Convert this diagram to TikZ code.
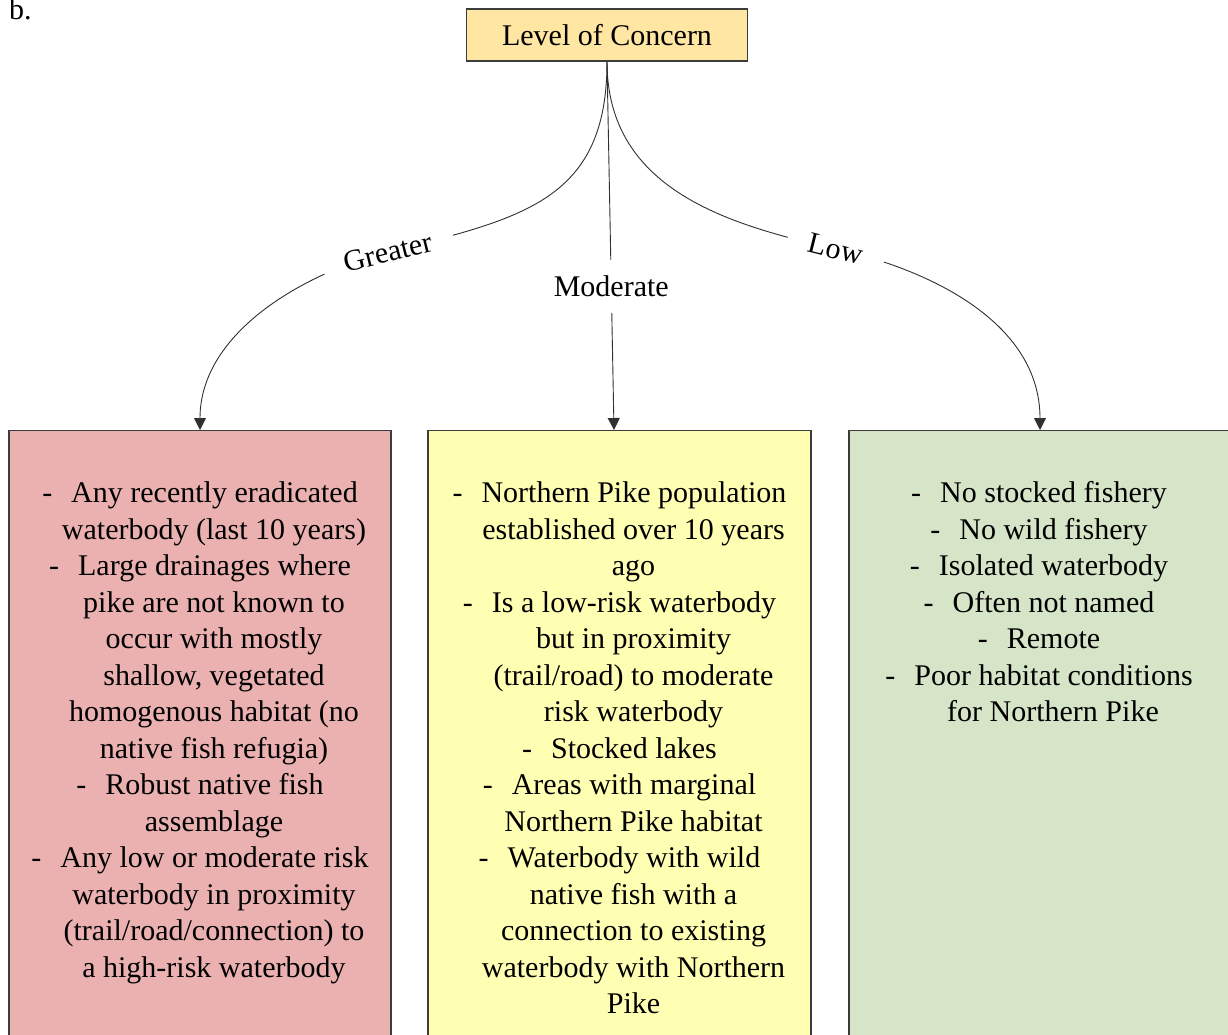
\documentclass[tikz,border=0pt]{standalone}
\usepackage{fontspec}
\setmainfont{Liberation Serif}
\usetikzlibrary{arrows.meta}

\definecolor{concernfill}{HTML}{FFE6A3}
\definecolor{greaterfill}{HTML}{EBB1B1}
\definecolor{moderatefill}{HTML}{FFFFB3}
\definecolor{lowfill}{HTML}{D6E4C8}
\definecolor{edgegray}{HTML}{3C3C3C}
\definecolor{linkgray}{HTML}{303030}

% list helpers: a bulleted line and a wrapped continuation line
\newcommand\dashitem{-\hspace{19pt}}
\newcommand\wrapline{\hspace*{28pt}}

\begin{document}
\begin{tikzpicture}[x=1pt,y=-1pt,
  every node/.style={font=\fontsize{30}{36.5}\selectfont, text=black},
  headbox/.style={draw=edgegray, line width=1.3pt, fill=concernfill,
    minimum width=281pt, minimum height=52pt, inner sep=0pt},
  catbox/.style={draw=edgegray, line width=1.3pt, anchor=north,
    minimum width=382pt, minimum height=660pt, inner sep=0pt},
  listtext/.style={align=center, anchor=north, inner sep=0pt},
  conn/.style={draw=linkgray, line width=0.9pt,
    -{Triangle[width=12pt,length=12pt]}},
  lbl/.style={fill=white, inner xsep=22pt, inner ysep=4pt}]

\useasboundingbox (0,0) rectangle (1228,1034);
\clip (0,0) rectangle (1228,1034);
\fill[white] (0,0) rectangle (1228,1034);

% panel letter
\node[anchor=base west, inner sep=0pt] (panel) at (9,19) {b.};

% root
\node[headbox] (loc) at (607,35) {Level of Concern};

% category boxes
\node[catbox, fill=greaterfill] (high) at (200,430) {};
\node[catbox, fill=moderatefill, minimum width=383pt] (mid) at (619.5,430) {};
\node[catbox, fill=lowfill] (low) at (1040,430) {};

% bend points where the branch labels sit
\coordinate (gbend) at (388,252);
\coordinate (lbend) at (836,249);

% branches
\draw[conn] (loc.south) .. controls (607,200) and (524,218) .. (gbend)
  node[lbl, rotate=14] (lgreater) {Greater}
  .. controls (310,271) and (200,330) .. (high.north);
\draw[conn] (loc.south) -- ([xshift=-5.5pt]mid.north)
  node[lbl, pos=0.611, inner xsep=4pt, inner ysep=16pt] (lmoderate) {Moderate};
\draw[conn] (loc.south) .. controls (607,190) and (729,225) .. (lbend)
  node[lbl, rotate=-14] (llow) {Low}
  .. controls (924,268) and (1040,320) .. (low.north);

% criteria
\node[listtext] (hightext) at (200,481.5) {%
\dashitem Any recently eradicated\\
\wrapline waterbody (last 10 years)\\
\dashitem Large drainages where\\
\wrapline pike are not known to\\
\wrapline occur with mostly\\
\wrapline shallow, vegetated\\
\wrapline homogenous habitat (no\\
\wrapline native fish refugia)\\
\dashitem Robust native fish\\
\wrapline assemblage\\
\dashitem Any low or moderate risk\\
\wrapline waterbody in proximity\\
\wrapline (trail/road/connection) to\\
\wrapline a high-risk waterbody};

\node[listtext] (midtext) at (619.5,481.5) {%
\dashitem Northern Pike population\\
\wrapline established over 10 years\\
\wrapline ago\\
\dashitem Is a low-risk waterbody\\
\wrapline but in proximity\\
\wrapline (trail/road) to moderate\\
\wrapline risk waterbody\\
\dashitem Stocked lakes\\
\dashitem Areas with marginal\\
\wrapline Northern Pike habitat\\
\dashitem Waterbody with wild\\
\wrapline native fish with a\\
\wrapline connection to existing\\
\wrapline waterbody with Northern\\
\wrapline Pike};

\node[listtext] (lowtext) at (1039,481.5) {%
\dashitem No stocked fishery\\
\dashitem No wild fishery\\
\dashitem Isolated waterbody\\
\dashitem Often not named\\
\dashitem Remote\\
\dashitem Poor habitat conditions\\
\wrapline for Northern Pike};
\end{tikzpicture}
\end{document}
